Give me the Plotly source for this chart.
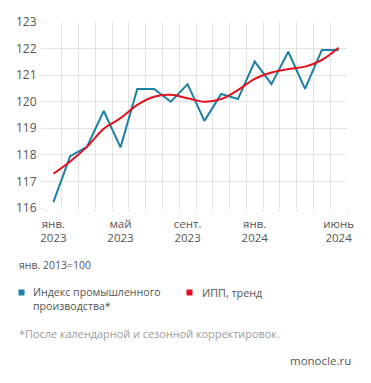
import plotly.graph_objects as go

months = list(range(18))
ipp = [116.22, 117.95, 118.3, 119.65, 118.28, 120.48, 120.48, 120.0, 120.66, 119.28,
       120.29, 120.1, 121.51, 120.66, 121.88, 120.48, 121.95, 121.95]
trend = [117.29, 117.75, 118.3, 118.98, 119.38, 119.88, 120.19, 120.26, 120.13, 120.0,
         120.1, 120.44, 120.86, 121.1, 121.23, 121.32, 121.57, 122.03]
tick_pos = [0, 4, 8, 12, 17]
tick_text = ["янв.<br>2023", "май<br>2023", "сент.<br>2023", "янв.<br>2024", "июнь<br>2024"]
y_ticks = [116, 117, 118, 119, 120, 121, 122, 123]

BLUE = "#1b7fa6"
RED = "#e3101e"
GRID = "#e3e3e3"
TXT = "#555555"
FONT = "Open Sans"

L, R, T, B = 45, 347, 22, 208
W, H = 371, 383


def px(x):
    return (x - L) / (R - L)


def py(y):
    return (B - y) / (B - T)


fig = go.Figure()
fig.add_trace(go.Scatter(x=months, y=ipp, mode="lines",
                         line=dict(color=BLUE, width=2), showlegend=False))
fig.add_trace(go.Scatter(x=months, y=trend, mode="lines",
                         line=dict(color=RED, width=2, shape="spline"), showlegend=False))

fig.update_layout(
    width=W, height=H,
    margin=dict(l=L, r=W - R, t=T, b=H - B),
    paper_bgcolor="white", plot_bgcolor="white",
    font=dict(family=FONT, size=12, color=TXT),
    xaxis=dict(range=[-0.5, 17.5], tickvals=tick_pos, ticktext=tick_text,
               showgrid=False, zeroline=False, ticks="", showline=False,
               ticklabelstandoff=7,
               tickfont=dict(size=11.5, color=TXT),
               minor=dict(tick0=-0.5, dtick=1, showgrid=True, gridcolor=GRID,
                          gridwidth=1, ticks="outside", ticklen=3, tickcolor=GRID)),
    yaxis=dict(range=[116, 123], tickvals=y_ticks, showgrid=True, gridcolor=GRID,
               gridwidth=1, zeroline=False, ticks="outside", ticklen=3, tickcolor=GRID,
               ticklabelstandoff=2,
               tickfont=dict(size=12, color=TXT), showline=False),
)

annos = [
    dict(x=17, y=265, text="янв. 2013=100", xanchor="left", font=dict(size=10.5, color=TXT)),
    dict(x=31, y=299, text="Индекс промышленного<br>производства*", xanchor="left",
         font=dict(size=10.6, color=TXT)),
    dict(x=200, y=292, text="ИПП, тренд", xanchor="left", font=dict(size=10.8, color=TXT)),
    dict(x=17, y=334, text="*После календарной и сезонной корректировок.", xanchor="left",
         font=dict(size=10.9, color="#9a9a9a")),
    dict(x=353, y=360, text="monocle.ru", xanchor="right", font=dict(size=11.5, color=TXT)),
]
for a in annos:
    fig.add_annotation(x=px(a["x"]), y=py(a["y"]), xref="paper", yref="paper",
                       text=a["text"], xanchor=a["xanchor"], yanchor="middle",
                       align="left", showarrow=False, font=a["font"])

for cx, col in [(21.5, BLUE), (189.5, RED)]:
    fig.add_shape(type="rect", xref="paper", yref="paper",
                  x0=px(cx - 3), x1=px(cx + 3),
                  y0=py(295.5), y1=py(289.5),
                  fillcolor=col, line=dict(width=0))

fig.write_html("out.html", config={"displayModeBar": False},
               post_script="document.body.style.margin='0';")
